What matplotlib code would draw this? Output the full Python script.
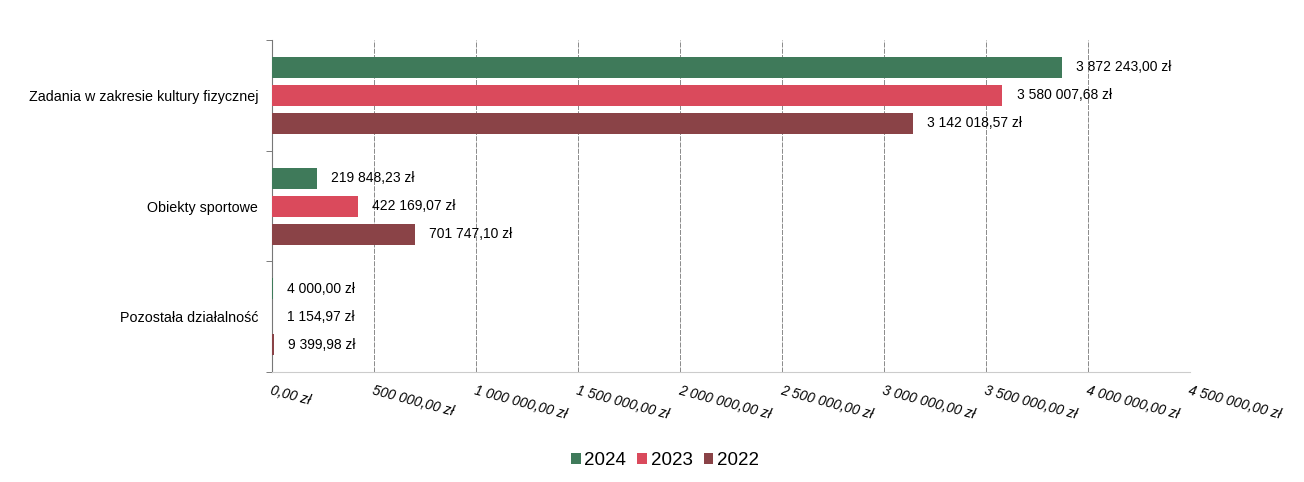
import matplotlib.pyplot as plt
import numpy as np

categories = ['Zadania w zakresie kultury fizycznej', 'Obiekty sportowe', 'Pozostała działalność']
years = ['2024', '2023', '2022']
v2024 = [3872243.00, 219848.23, 4000.00]
v2023 = [3580007.68, 422169.07, 1154.97]
v2022 = [3142018.57, 701747.10, 9399.98]
ticks = [0, 500000, 1000000, 1500000, 2000000, 2500000, 3000000, 3500000, 4000000, 4500000]

colors = ['#3f7a5a', '#da4a5c', '#8a4347']

def zl(v):
    s = '{:,.2f}'.format(v).replace(',', ' ').replace('.', ',')
    return s + ' zł'

plt.rcParams['font.family'] = ['Liberation Sans', 'DejaVu Sans']

fig = plt.figure(figsize=(13.04, 4.82), dpi=100)
ax = fig.add_axes([0.2086, 0.228, 0.704, 0.689])

y = np.arange(len(categories))
off = 0.253
h = 0.19
for i, vals in enumerate([v2024, v2023, v2022]):
    ypos = y + (i - 1) * off
    ax.barh(ypos, vals, height=h, color=colors[i], label=years[i], zorder=3)
    for yy, v in zip(ypos, vals):
        ax.text(v + 70000, yy, zl(v), va='center', ha='left', fontsize=10, zorder=4)

ax.set_xlim(0, 4500000)
ax.set_ylim(2.5, -0.5)
ax.set_xticks(ticks)
ax.set_xticklabels([zl(t) for t in ticks], rotation=-15, ha='left', va='top',
                   rotation_mode='anchor', fontstyle='italic', fontsize=10)
ax.tick_params(axis='x', length=0, pad=8)
ax.set_yticks(y)
ax.set_yticklabels(categories, fontsize=10.3)
ax.tick_params(axis='y', length=0, pad=10)
ax.set_yticks([-0.5, 0.5, 1.5, 2.5], minor=True)
ax.tick_params(axis='y', which='minor', length=4, color='#666666')

ax.grid(axis='x', color='#777777', lw=0.6, linestyle=(0, (6, 1.5)), zorder=0)
for s in ['top', 'right']:
    ax.spines[s].set_visible(False)
ax.spines['bottom'].set_color('#cccccc')
ax.spines['left'].set_color('#777777')

fig.legend(loc='lower center', bbox_to_anchor=(0.51, -0.008), ncol=3, frameon=False,
           fontsize=13.5, handlelength=0.5, handleheight=0.5, handletextpad=0.2,
           columnspacing=0.6)

fig.savefig('out.png', dpi=100)
